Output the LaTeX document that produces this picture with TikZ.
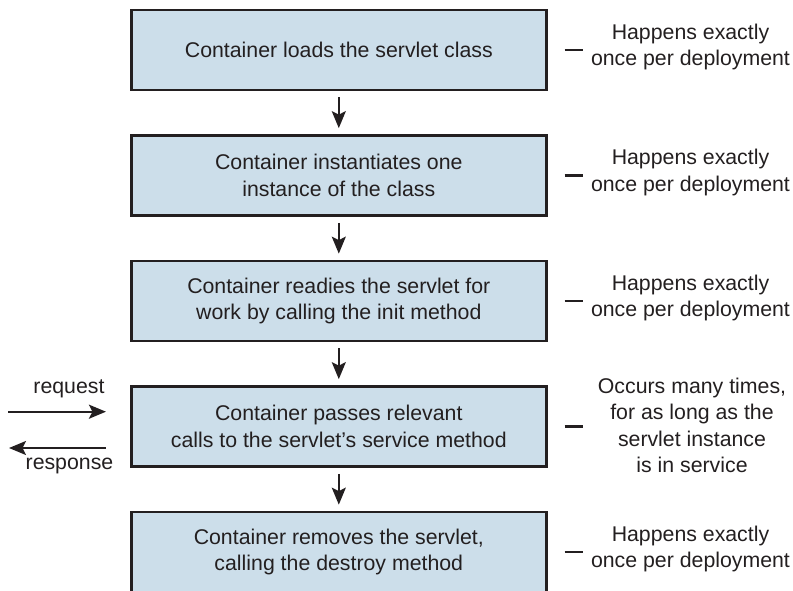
\documentclass[tikz,border=0pt]{standalone}
\usepackage{fontspec}
\setmainfont{Liberation Sans}
\usetikzlibrary{arrows.meta,calc}
\definecolor{ink}{HTML}{231F20}
\definecolor{boxblue}{HTML}{CCDEEA}
\begin{document}
\begin{tikzpicture}[x=1pt,y=-1pt,
  font=\fontsize{21.3}{26.5}\selectfont, text=ink,
  stagebox/.style={draw=ink, fill=boxblue, line width=2.7pt, minimum width=415pt, minimum height=80pt, align=center, inner sep=0pt},
  flow/.style={draw=ink, line width=2.2pt, -{Stealth[length=17pt,width=14pt,inset=3.5pt]}},
  note/.style={align=center, inner sep=0pt},
  lbl/.style={inner sep=0pt},
  tick/.style={draw=ink, line width=2.2pt},
]
\useasboundingbox (0,0) rectangle (793,591);
\clip (0,0) rectangle (793,591);

\node[stagebox] (b1) at (338.8,50) {Container loads the servlet class};
\node[stagebox] (b2) at (338.8,175.5) {Container instantiates one\\instance of the class};
\node[stagebox] (b3) at (338.8,301) {Container readies the servlet for\\work by calling the init method};
\node[stagebox] (b4) at (338.8,426.5) {Container passes relevant\\calls to the servlet’s service method};
\node[stagebox] (b5) at (338.8,552) {Container removes the servlet,\\calling the destroy method};

\draw[flow, shorten <=6pt, shorten >=6pt] (b1) -- (b2);
\draw[flow, shorten <=6pt, shorten >=6pt] (b2) -- (b3);
\draw[flow, shorten <=6pt, shorten >=6pt] (b3) -- (b4);
\draw[flow, shorten <=6pt, shorten >=6pt] (b4) -- (b5);

\foreach \b in {b1,b2,b3,b4,b5}
  \draw[tick] ([xshift=17pt]\b.east) -- ([xshift=35pt]\b.east);

\node[note] (n1) at (690.5,47) {Happens exactly\\once per deployment};
\node[note] (n2) at (690.5,172.5) {Happens exactly\\once per deployment};
\node[note] (n3) at (690.5,298) {Happens exactly\\once per deployment};
\node[note] (n4) at (692,425.5) {Occurs many times,\\for as long as the\\servlet instance\\is in service};
\node[note] (n5) at (690.5,549) {Happens exactly\\once per deployment};

\coordinate (reqin) at (8,411.7);
\coordinate (respout) at (9,448);
\draw[flow, shorten >=24pt] (reqin) -- (reqin -| b4.west)
  node[lbl, midway, above=12.5pt] (reqlbl) {request};
\draw[flow, shorten <=24pt] (respout -| b4.west) -- (respout)
  node[lbl, midway, below=9.4pt] (resplbl) {response};
\end{tikzpicture}
\end{document}
